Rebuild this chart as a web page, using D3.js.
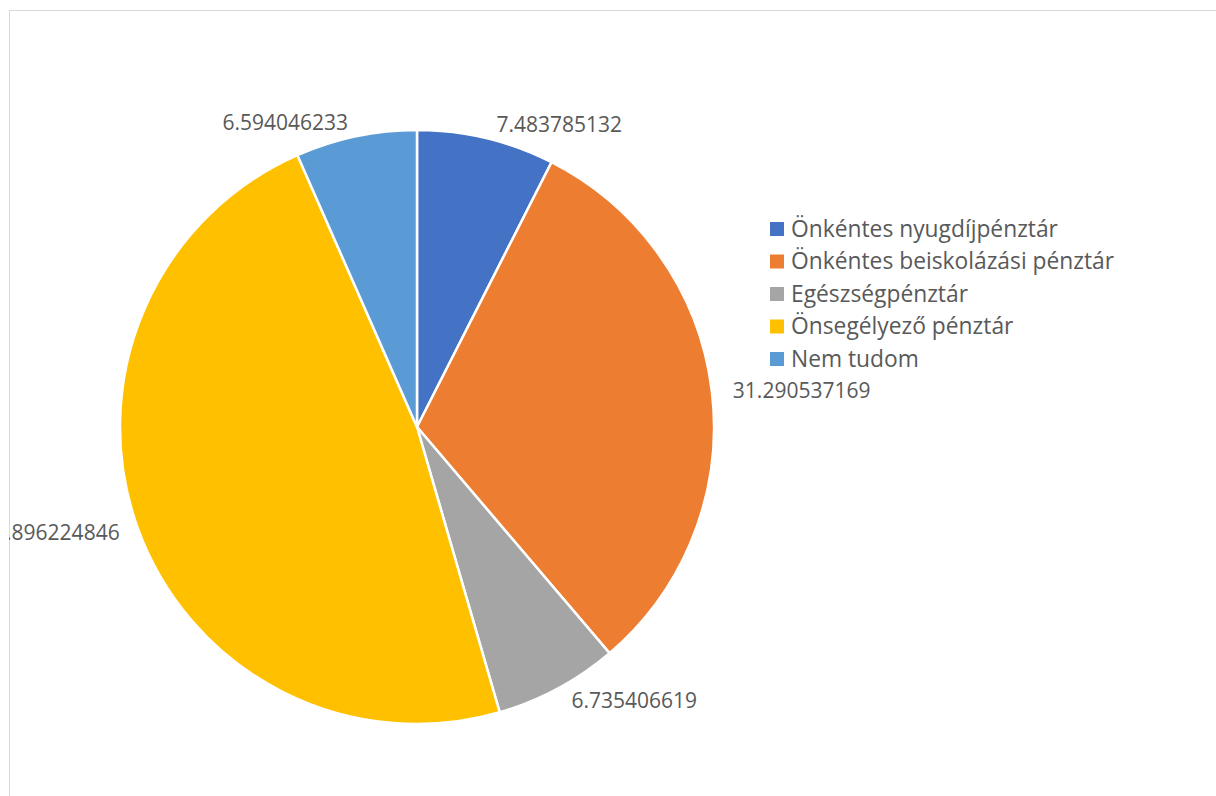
<!DOCTYPE html>
<html>
<head>
<meta charset="utf-8">
<script src="https://cdn.jsdelivr.net/npm/d3@7"></script>
<style>
  body { margin: 0; background: #fff; }
  text { font-family: "Open Sans", sans-serif; fill: #595959; }
</style>
</head>
<body>
<div id="chart"></div>
<script>
// Data
const categories = ['Önkéntes nyugdíjpénztár', 'Önkéntes beiskolázási pénztár', 'Egészségpénztár', 'Önsegélyező pénztár', 'Nem tudom'];
const values = [7.483785132, 31.290537169, 6.735406619, 47.896224846, 6.594046233];
const labels = ['7.483785132', '31.290537169', '6.735406619', '47.896224846', '6.594046233'];
const colors = ['#4472C4', '#ED7D31', '#A5A5A5', '#FFC000', '#5B9BD5'];

const width = 1216;
const height = 796;
const cx = 417, cy = 427, radius = 297;

const svg = d3.select('#chart')
  .append('svg')
  .attr('width', width)
  .attr('height', height);

// clip to chart area (the left label is cut by the frame, as in Excel)
svg.append('clipPath')
  .attr('id', 'area')
  .append('rect')
  .attr('x', 9).attr('y', 10)
  .attr('width', width).attr('height', height);

svg.append('rect')
  .attr('x', 9.5).attr('y', 10.5)
  .attr('width', width).attr('height', height)
  .attr('fill', 'none')
  .attr('stroke', '#d9d9d9');

const g = svg.append('g').attr('clip-path', 'url(#area)');
const pieG = g.append('g').attr('transform', `translate(${cx}, ${cy})`);

const pie = d3.pie().sort(null).value(d => d);
const arcs = pie(values);

const arc = d3.arc().innerRadius(0).outerRadius(radius);
const labelArc = d3.arc().innerRadius(radius + 14).outerRadius(radius + 14);

pieG.selectAll('path')
  .data(arcs)
  .enter()
  .append('path')
  .attr('d', arc)
  .attr('fill', (d, i) => colors[i])
  .attr('stroke', '#fff')
  .attr('stroke-width', 2.5);

// Legend
const legend = g.append('g').attr('transform', 'translate(770, 229)');
const rows = legend.selectAll('g')
  .data(categories)
  .enter()
  .append('g')
  .attr('transform', (d, i) => `translate(0, ${i * 32.5})`);

rows.append('rect')
  .attr('x', 0).attr('y', -7)
  .attr('width', 14).attr('height', 14)
  .attr('fill', (d, i) => colors[i]);

rows.append('text')
  .attr('x', 21)
  .attr('dy', '0.35em')
  .style('font-size', '22.8px')
  .text(d => d);

// Data labels
const midAngle = d => (d.startAngle + d.endAngle) / 2;

pieG.selectAll('.lbl')
  .data(arcs)
  .enter()
  .append('text')
  .attr('class', 'lbl')
  .attr('transform', d => {
    const [x, y] = labelArc.centroid(d);
    return `translate(${x}, ${y})`;
  })
  .attr('text-anchor', d => Math.sin(midAngle(d)) >= 0 ? 'start' : 'end')
  .attr('dx', d => Math.sin(midAngle(d)) >= 0 ? 7 : -5)
  .attr('dy', '0.35em')
  .style('font-size', '21px')
  .text((d, i) => labels[i]);
</script>
</body>
</html>
